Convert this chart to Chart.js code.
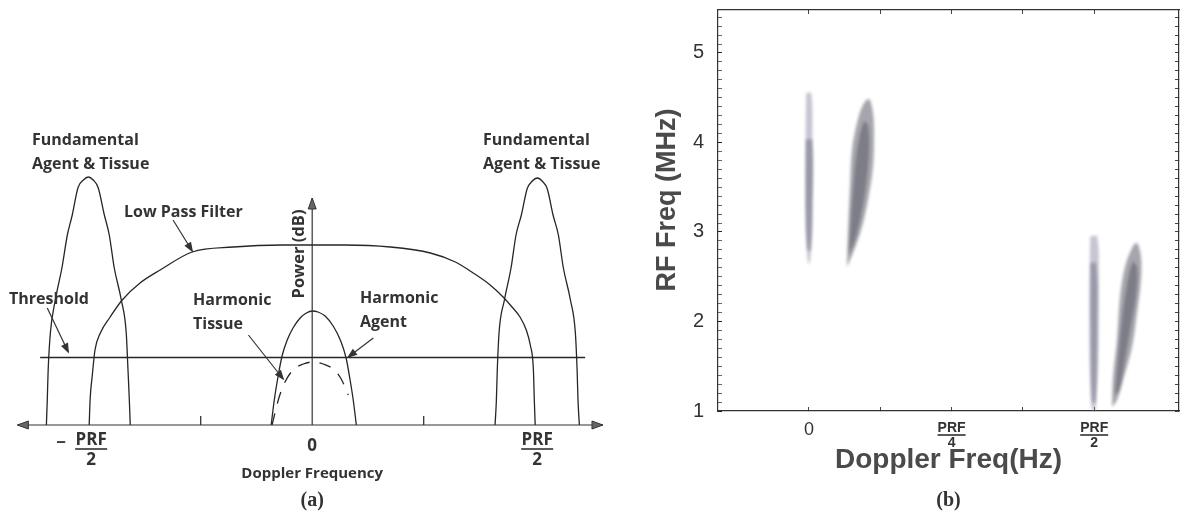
<!DOCTYPE html>
<html>
<head>
<meta charset="utf-8">
<script src="https://cdn.jsdelivr.net/npm/chart.js@4.4.1/dist/chart.umd.min.js"></script>
<style>
  html, body { margin: 0; padding: 0; background: #fff; }
  #wrap { position: relative; width: 1184px; height: 515px; overflow: hidden; }
  .panel { position: absolute; top: 0; height: 515px; }
  #pa { left: 0; width: 640px; }
  #pb { left: 640px; width: 544px; }
</style>
</head>
<body>
<div id="wrap">
  <div class="panel" id="pa"><canvas id="chartA"></canvas></div>
  <div class="panel" id="pb"><canvas id="chartB"></canvas></div>
</div>
<script>
// ---- panel (a): x in units of PRF, y = relative power (axis at 0) ----
const axisX = [-0.661, 0.652];
const powerAxisTop = 90.8;
const smallTicksA = [-0.25, 0.25];
const thresholdX = [-0.61, 0.612];
const thresholdLevel = 27;

const fundLeftX = [-0.596, -0.594, -0.592, -0.587, -0.576, -0.561, -0.549, -0.538, -0.525, -0.513, -0.502, -0.491, -0.480, -0.466, -0.455, -0.444, -0.428, -0.417, -0.413, -0.410, -0.408];
const fundLeftY = [0, 10, 22, 37, 50, 63, 76, 84, 95, 98, 99.2, 98, 95, 84, 76, 63, 50, 37, 22, 10, 0];
const fundRightX = [0.410, 0.413, 0.415, 0.419, 0.431, 0.446, 0.457, 0.469, 0.482, 0.493, 0.505, 0.516, 0.527, 0.540, 0.552, 0.563, 0.579, 0.590, 0.594, 0.596, 0.599];
const fundRightY = [0, 10, 22, 37, 50, 63, 76, 84, 94.5, 97.5, 98.8, 97.5, 94.5, 84, 76, 63, 50, 37, 22, 10, 0];

const lpfX = [-0.500, -0.498, -0.493, -0.487, -0.475, -0.453, -0.426, -0.386, -0.341, -0.269, -0.177, -0.065, 0, 0.074, 0.175, 0.265, 0.321, 0.361, 0.399, 0.428, 0.448, 0.466, 0.480, 0.489, 0.496, 0.498, 0.500];
const lpfY = [0, 10, 20, 30, 36.8, 43.2, 50, 56.8, 62, 69.2, 71.2, 72, 72, 72, 71.2, 68.8, 65.2, 60.8, 56, 51.2, 47.2, 43.2, 38, 32, 22, 10, 0];

const agentX = [-0.092, -0.085, -0.076, -0.067, -0.056, -0.043, -0.027, -0.013, 0, 0.013, 0.029, 0.047, 0.063, 0.076, 0.085, 0.092, 0.099];
const agentY = [0, 10, 20, 28, 34, 38.8, 42.8, 44.8, 45.6, 45.2, 43.6, 39.6, 34, 26.8, 18, 10, 0];

const tissueX = [-0.090, -0.083, -0.074, -0.061, -0.043, -0.020, 0.002, 0.025, 0.047, 0.065, 0.081];
const tissueY = [0, 5.2, 11.2, 17.2, 22, 24.4, 25.2, 24.4, 22.4, 18.4, 12];

const xLabelValsA = [-0.5, 0, 0.5];
const xLabelNumA = ['PRF', '0', 'PRF'];
const xLabelDenA = ['2', '', '2'];
const xLabelSignA = ['\u2212', '', ''];

// ---- panel (b): x in units of PRF, y in MHz ----
const dopplerTicks = [0, 0.125, 0.25, 0.375, 0.5];
const xLabelValsB = [0, 0.25, 0.5];
const xLabelNumB = ['0', 'PRF', 'PRF'];
const xLabelDenB = ['', '4', '2'];

const stripeZeroX = [-0.005, 0.004, 0.006, 0.006, 0.004, 0.0, -0.004, -0.006, -0.006, -0.005];
const stripeZeroY = [4.55, 4.55, 4.0, 3.2, 2.8, 2.64, 2.8, 3.2, 4.0, 4.55];
const stripeZeroCoreX = [-0.005, 0.005, 0.005, 0.002, -0.002, -0.005, -0.005];
const stripeZeroCoreY = [4.03, 4.03, 3.2, 2.8, 2.8, 3.2, 4.03];

const echoZeroX = [0.0666, 0.0684, 0.0719, 0.0754, 0.0842, 0.0947, 0.1052, 0.1122, 0.1140, 0.1122, 0.1034, 0.0929, 0.0771, 0.0666];
const echoZeroY = [2.609, 2.989, 3.503, 3.916, 4.218, 4.419, 4.486, 4.330, 4.106, 3.726, 3.358, 3.056, 2.765, 2.609];
const echoZeroCoreX = [0.0701, 0.0736, 0.0789, 0.0859, 0.0964, 0.1034, 0.1052, 0.0999, 0.0912, 0.0806, 0.0701];
const echoZeroCoreY = [2.743, 3.134, 3.581, 3.972, 4.229, 4.196, 3.916, 3.525, 3.190, 2.911, 2.743];

const stripeHalfX = [0.493, 0.505, 0.508, 0.507, 0.503, 0.5, 0.495, 0.492, 0.492, 0.493];
const stripeHalfY = [2.95, 2.95, 2.5, 1.6, 1.05, 1.0, 1.05, 1.6, 2.5, 2.95];
const stripeHalfCoreX = [0.494, 0.503, 0.505, 0.502, 0.497, 0.494, 0.494];
const stripeHalfCoreY = [2.65, 2.65, 2.0, 1.1, 1.1, 2.0, 2.65];

const echoHalfX = [0.5312, 0.5330, 0.5400, 0.5452, 0.5540, 0.5663, 0.5750, 0.5820, 0.5820, 0.5750, 0.5663, 0.5505, 0.5400, 0.5312];
const echoHalfY = [1.045, 1.380, 1.793, 2.274, 2.609, 2.821, 2.877, 2.721, 2.464, 2.095, 1.715, 1.346, 1.123, 1.045];
const echoHalfCoreX = [0.5365, 0.5417, 0.5487, 0.5575, 0.5680, 0.5750, 0.5733, 0.5628, 0.5522, 0.5435, 0.5365];
const echoHalfCoreY = [1.179, 1.570, 2.017, 2.408, 2.665, 2.598, 2.296, 1.905, 1.514, 1.235, 1.179];

const pts = (xs, ys) => xs.map((x, i) => ({ x: x, y: ys[i] }));
const INK = '#262626';

function curve(data, extra) {
  return Object.assign({
    data: data, showLine: true, borderColor: INK, borderWidth: 1.3,
    pointRadius: 0, fill: false, cubicInterpolationMode: 'monotone'
  }, extra || {});
}

function head(ctx, x1, y1, x2, y2, len, half) {
  const a = Math.atan2(y2 - y1, x2 - x1);
  ctx.beginPath();
  ctx.moveTo(x2, y2);
  ctx.lineTo(x2 - len * Math.cos(a) + half * Math.sin(a), y2 - len * Math.sin(a) - half * Math.cos(a));
  ctx.lineTo(x2 - len * Math.cos(a) - half * Math.sin(a), y2 - len * Math.sin(a) + half * Math.cos(a));
  ctx.closePath();
  ctx.fill();
  ctx.stroke();
}

function frac(ctx, cx, num, den, yNum, yLine, yDen, halfW) {
  ctx.textAlign = 'center';
  ctx.fillText(num, cx, yNum);
  if (den) {
    ctx.fillRect(cx - halfW, yLine - 0.8, halfW * 2, 1.6);
    ctx.fillText(den, cx, yDen);
  }
}

// labels and arrows of panel (a)
const annotateA = {
  id: 'annotateA',
  afterDatasetsDraw(chart) {
    const ctx = chart.ctx, sx = chart.scales.x, sy = chart.scales.y;
    const px = v => sx.getPixelForValue(v), py = v => sy.getPixelForValue(v);
    ctx.save();
    // axis arrow heads
    ctx.fillStyle = '#666'; ctx.strokeStyle = '#333'; ctx.lineWidth = 1;
    head(ctx, px(axisX[0]) + 20, py(0), px(axisX[0]), py(0), 11, 4);
    head(ctx, px(axisX[1]) - 20, py(0), px(axisX[1]), py(0), 11, 4);
    head(ctx, px(0), py(powerAxisTop) + 20, px(0), py(powerAxisTop), 11, 4);
    // pointer arrows
    const arrows = [
      [-0.312, 82, -0.269, 69.6],
      [-0.594, 46.8, -0.547, 29.2],
      [-0.143, 36, -0.065, 18.4],
      [0.137, 34.8, 0.081, 27.2]
    ];
    ctx.fillStyle = '#333'; ctx.strokeStyle = '#333'; ctx.lineWidth = 1.2;
    arrows.forEach(a => {
      const x1 = px(a[0]), y1 = py(a[1]), x2 = px(a[2]), y2 = py(a[3]);
      ctx.beginPath(); ctx.moveTo(x1, y1); ctx.lineTo(x2, y2); ctx.stroke();
      head(ctx, x1, y1, x2, y2, 8, 3);
    });
    // texts
    ctx.fillStyle = '#333';
    ctx.textBaseline = 'middle';
    ctx.textAlign = 'left';
    ctx.font = 'bold 16px "Open Sans"';
    [['Fundamental', 32, 140], ['Agent & Tissue', 32, 164],
     ['Fundamental', 483, 140], ['Agent & Tissue', 483, 164],
     ['Low Pass Filter', 124, 212], ['Threshold', 9, 299],
     ['Harmonic', 193, 300], ['Tissue', 193, 324],
     ['Harmonic', 360, 298], ['Agent', 360, 322]].forEach(t => ctx.fillText(t[0], t[1], t[2]));
    // y label
    ctx.save();
    ctx.translate(299, 254); ctx.rotate(-Math.PI / 2);
    ctx.textAlign = 'center'; ctx.font = 'bold 16.5px "Open Sans"';
    ctx.fillText('Power (dB)', 0, 0);
    ctx.restore();
    // x tick labels
    ctx.font = 'bold 17px "Open Sans"';
    xLabelValsA.forEach((v, i) => {
      const cx = px(v) + (xLabelDenA[i] ? 2 : 0);
      frac(ctx, cx, xLabelNumA[i], xLabelDenA[i], xLabelDenA[i] ? 440 : 446, 449, 460, 16);
      if (xLabelSignA[i]) { ctx.textAlign = 'center'; ctx.fillText(xLabelSignA[i], cx - 30, 443); }
    });
    ctx.textAlign = 'center';
    ctx.font = 'bold 15px "Open Sans"';
    ctx.fillText('Doppler Frequency', px(0), 474);
    ctx.font = 'bold 20px "Liberation Serif"';
    ctx.fillStyle = '#333';
    ctx.fillText('(a)', px(0), 501);
    ctx.restore();
  }
};

new Chart(document.getElementById('chartA'), {
  type: 'scatter',
  data: {
    datasets: [
      curve(pts(axisX, [0, 0]), { borderColor: '#333', borderWidth: 1.2 }),
      curve(pts([0, 0], [0, powerAxisTop]), { borderColor: '#333', borderWidth: 1.2 }),
      curve(pts([smallTicksA[0], smallTicksA[0]], [0, 3.6]), { borderColor: '#333' }),
      curve(pts([smallTicksA[1], smallTicksA[1]], [0, 3.6]), { borderColor: '#333' }),
      curve(pts(thresholdX, [thresholdLevel, thresholdLevel]), { borderWidth: 1.4 }),
      curve(pts(lpfX, lpfY)),
      curve(pts(fundLeftX, fundLeftY)),
      curve(pts(fundRightX, fundRightY)),
      curve(pts(agentX, agentY)),
      curve(pts(tissueX, tissueY), { borderDash: [12, 10] })
    ]
  },
  options: {
    responsive: true, maintainAspectRatio: false, animation: false,
    layout: { padding: 0 },
    plugins: { legend: { display: false }, tooltip: { enabled: false } },
    scales: {
      x: { type: 'linear', display: false, min: -0.7, max: 0.735 },
      y: { type: 'linear', display: false, min: -36, max: 170 }
    }
  },
  plugins: [annotateA]
});

// ---- panel (b) ----
const softBlur = {
  id: 'softBlur',
  beforeDatasetsDraw(chart) { chart.ctx.save(); chart.ctx.filter = 'blur(1.8px)'; },
  afterDatasetsDraw(chart) { chart.ctx.restore(); }
};

const annotateB = {
  id: 'annotateB',
  afterDraw(chart) {
    const ctx = chart.ctx, sx = chart.scales.x, area = chart.chartArea;
    ctx.save();
    ctx.fillStyle = '#333';
    ctx.textBaseline = 'middle';
    xLabelValsB.forEach((v, i) => {
      if (xLabelDenB[i]) {
        ctx.font = 'bold 14px "Liberation Sans"';
        frac(ctx, sx.getPixelForValue(v), xLabelNumB[i], xLabelDenB[i], 428, 435, 443, 14);
      } else {
        ctx.font = '18px "Liberation Sans"';
        frac(ctx, sx.getPixelForValue(v), xLabelNumB[i], '', 430, 0, 0, 0);
      }
    });
    ctx.fillStyle = '#4a4a4a';
    ctx.font = 'bold 28px "Liberation Sans"';
    ctx.textAlign = 'center';
    ctx.fillText('Doppler Freq(Hz)', (area.left + area.right) / 2, 460);
    ctx.save();
    ctx.translate(28, 200); ctx.rotate(-Math.PI / 2);
    ctx.font = 'bold 27px "Liberation Sans"';
    ctx.fillText('RF Freq (MHz)', 0, 0);
    ctx.restore();
    ctx.fillStyle = '#333';
    ctx.font = 'bold 20px "Liberation Serif"';
    ctx.fillText('(b)', (area.left + area.right) / 2, 501);
    ctx.restore();
  }
};

function blob(data, color) {
  return {
    data: data, showLine: true, fill: 'shape', tension: 0.35,
    backgroundColor: color, borderColor: 'rgba(0,0,0,0)', borderWidth: 0, pointRadius: 0
  };
}

const LIGHT = 'rgba(150,150,175,0.55)';
const MID = 'rgba(105,105,118,0.6)';
const DARK = 'rgba(72,72,82,0.55)';

const isMajor = v => Math.abs(v - Math.round(v)) < 1e-6;
const boxGrid = { drawOnChartArea: false, drawTicks: true, tickLength: -4, color: '#444', lineWidth: 1 };
const boxBorder = { display: true, color: '#333', width: 1.2 };
const noPad = s => { s.paddingTop = 0; s.paddingBottom = 0; s.paddingLeft = 0; s.paddingRight = 0; };

new Chart(document.getElementById('chartB'), {
  type: 'scatter',
  data: {
    datasets: [
      blob(pts(stripeZeroX, stripeZeroY), LIGHT),
      blob(pts(stripeZeroCoreX, stripeZeroCoreY), DARK),
      blob(pts(echoZeroX, echoZeroY), MID),
      blob(pts(echoZeroCoreX, echoZeroCoreY), DARK),
      blob(pts(stripeHalfX, stripeHalfY), LIGHT),
      blob(pts(stripeHalfCoreX, stripeHalfCoreY), DARK),
      blob(pts(echoHalfX, echoHalfY), MID),
      blob(pts(echoHalfCoreX, echoHalfCoreY), DARK)
    ]
  },
  options: {
    responsive: true, maintainAspectRatio: false, animation: false,
    layout: { padding: { top: 10, right: 5, left: 0, bottom: 0 } },
    plugins: { legend: { display: false }, tooltip: { enabled: false } },
    scales: {
      x: {
        type: 'linear', position: 'bottom', min: -0.1595, max: 0.6487,
        afterBuildTicks: s => { s.ticks = dopplerTicks.map(v => ({ value: v })); },
        afterFit: s => { s.height = 104; noPad(s); },
        ticks: { display: false }, grid: boxGrid, border: boxBorder
      },
      xTop: {
        type: 'linear', position: 'top', min: -0.1595, max: 0.6487,
        afterBuildTicks: s => { s.ticks = dopplerTicks.map(v => ({ value: v })); },
        afterFit: s => { s.height = 0; noPad(s); },
        ticks: { display: false }, grid: boxGrid, border: boxBorder
      },
      y: {
        type: 'linear', position: 'left', min: 1, max: 5.48,
        afterFit: s => { s.width = 78; noPad(s); },
        ticks: {
          stepSize: 0.1, includeBounds: false, autoSkip: false, padding: 18,
          color: '#333', font: { family: '"Liberation Sans"', size: 20 },
          callback: v => isMajor(v) ? String(Math.round(v)) : ''
        },
        grid: Object.assign({}, boxGrid, { tickColor: c => isMajor(c.tick.value) ? '#222' : '#666' }),
        border: boxBorder
      },
      yRight: {
        type: 'linear', position: 'right', min: 1, max: 5.48,
        afterFit: s => { s.width = 0; noPad(s); },
        ticks: { display: false, stepSize: 0.1, includeBounds: false },
        grid: boxGrid, border: boxBorder
      }
    }
  },
  plugins: [softBlur, annotateB]
});
</script>
</body>
</html>
